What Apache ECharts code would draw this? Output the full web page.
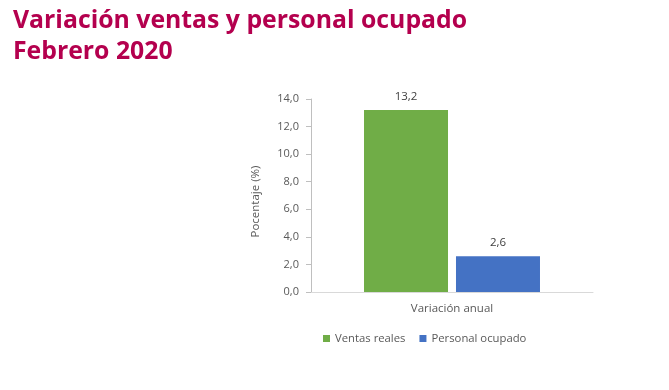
<!DOCTYPE html>
<html><head><meta charset="utf-8">
<script src="https://cdn.jsdelivr.net/npm/echarts@6/dist/echarts.min.js"></script>
<style>html,body{margin:0;padding:0;background:#fff}#c{width:669px;height:390px}</style>
</head><body><div id="c"></div>
<script>
const titleLines = ['Variación ventas y personal ocupado', 'Febrero 2020'];
const categories = ['Variación anual'];
const seriesNames = ['Ventas reales', 'Personal ocupado'];
const ventasReales = [13.2];
const personalOcupado = [2.6];
const yAxisName = 'Pocentaje (%)';
const yMin = 0, yMax = 14, yInterval = 2;

const fmt = v => v.toFixed(1).replace('.', ',');
const chart = echarts.init(document.getElementById('c'), null, {renderer: 'canvas'});
chart.setOption({
  animation: false,
  title: {
    text: titleLines.join('\n'),
    left: 8, top: 0,
    textStyle: {fontFamily: 'Open Sans', fontWeight: 'bold', fontSize: 24.8, color: '#B4004E', lineHeight: 31}
  },
  legend: {
    data: seriesNames,
    top: 328, left: 318,
    itemWidth: 7, itemHeight: 7, itemGap: 14,
    icon: 'rect',
    textStyle: {fontFamily: 'Open Sans', fontSize: 11.3, color: '#595959'}
  },
  grid: {left: 311, right: 76, top: 99, bottom: 98, containLabel: false},
  xAxis: {
    type: 'category', data: categories,
    axisLine: {lineStyle: {color: '#D9D9D9'}},
    axisTick: {show: false},
    axisLabel: {fontFamily: 'Open Sans', fontSize: 11.5, color: '#595959', margin: 11}
  },
  yAxis: {
    type: 'value', min: yMin, max: yMax, interval: yInterval,
    name: yAxisName, nameLocation: 'middle', nameGap: 49, nameRotate: 90,
    nameTextStyle: {fontFamily: 'Open Sans', fontSize: 11.5, color: '#595959', padding: [0, 12, 0, 0]},
    axisLine: {show: true, lineStyle: {color: '#BFBFBF'}},
    axisTick: {show: true, length: 5, lineStyle: {color: '#BFBFBF'}},
    splitLine: {show: false},
    axisLabel: {fontFamily: 'Open Sans', fontSize: 11, color: '#595959', margin: 12, formatter: fmt}
  },
  series: [
    {name: seriesNames[0], type: 'bar', data: ventasReales, barWidth: 84, barGap: '9.5%',
     itemStyle: {color: '#70AD47'},
     label: {show: true, position: 'top', distance: 7, formatter: p => fmt(p.value), fontFamily: 'Open Sans', fontSize: 11.5, color: '#404040'}},
    {name: seriesNames[1], type: 'bar', data: personalOcupado, barWidth: 84,
     itemStyle: {color: '#4472C4'},
     label: {show: true, position: 'top', distance: 7, formatter: p => fmt(p.value), fontFamily: 'Open Sans', fontSize: 11.5, color: '#404040'}}
  ]
});
</script></body></html>
